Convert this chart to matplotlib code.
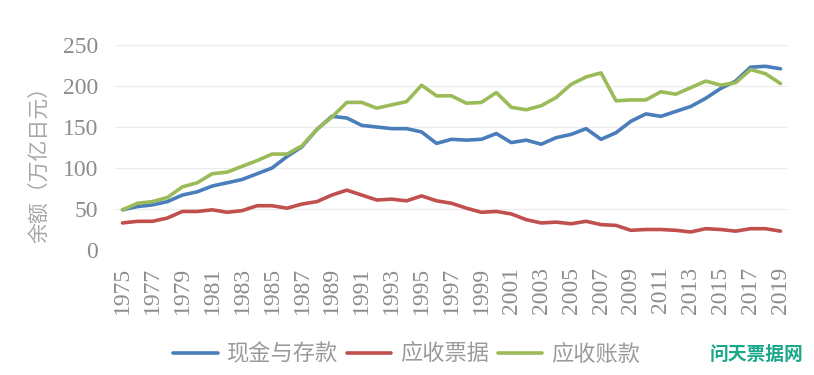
#!/usr/bin/env python
# -*- coding: utf-8 -*-
import matplotlib

matplotlib.use("Agg")
import matplotlib.pyplot as plt
import numpy as np

plt.rcParams["font.family"] = ["Noto Sans CJK SC", "DejaVu Sans"]

####################################################
# Data

years = list(range(1975, 2020))

cash_deposits = [
    49, 53, 55, 59, 67, 71, 78, 82, 86, 93, 100, 114, 126, 147, 163,
    161, 152, 150, 148, 148, 144, 130, 135, 134, 135, 142, 131, 134, 129, 137,
    141, 148, 135, 143, 157, 166, 163, 169, 175, 185, 197, 206, 223, 224, 221,
]
notes_receivable = [
    33, 35, 35, 39, 47, 47, 49, 46, 48, 54, 54, 51, 56, 59, 67,
    73, 67, 61, 62, 60, 66, 60, 57, 51, 46, 47, 44, 37, 33, 34,
    32, 35, 31, 30, 24, 25, 25, 24, 22, 26, 25, 23, 26, 26, 23,
]
accounts_receivable = [
    49, 57, 59, 64, 77, 82, 93, 95, 102, 109, 117, 117, 127, 147, 162,
    180, 180, 173, 177, 181, 201, 188, 188, 179, 180, 192, 174, 171, 176, 186,
    202, 211, 216, 182, 183, 183, 193, 190, 198, 206, 201, 204, 220, 215, 203,
]

series_names = ["现金与存款", "应收票据", "应收账款"]
series_colors = ["#4a7ebb", "#c0504d", "#9bbb59"]

ylabel = "余额（万亿日元）"
watermark = "问天票据网"

####################################################
# Plot

gray = "#8c8c8c"
serif = "Liberation Serif"

fig = plt.figure(figsize=(8.14, 3.75), dpi=100)
ax = fig.add_axes([0.1413, 0.3333, 0.8267, 0.5467])

for vals, name, c in zip(
    [cash_deposits, notes_receivable, accounts_receivable], series_names, series_colors
):
    ax.plot(years, vals, color=c, lw=2.6, label=name, solid_capstyle="round")

ax.set_xlim(1974.5, 2019.5)
ax.set_ylim(0, 250)
ax.set_yticks(np.arange(0, 251, 50))
ax.set_xticks(years[::2])
ax.set_xticklabels([str(y) for y in years[::2]], rotation=90, family=serif)
ax.set_yticklabels([str(v) for v in range(0, 251, 50)], family=serif)

ax.tick_params(axis="both", length=0, colors=gray, labelsize=17)
ax.tick_params(axis="x", pad=12)
ax.tick_params(axis="y", pad=12)

for s in ax.spines.values():
    s.set_visible(False)
ax.grid(axis="y", color="#ececec", lw=0.9)
ax.set_axisbelow(True)

ax.set_ylabel(ylabel, color="#a6a6a6", fontsize=15)
ax.yaxis.set_label_coords(-0.095, 0.44)

fig.legend(
    loc="center",
    bbox_to_anchor=(0.4995, 0.056),
    ncol=3,
    frameon=False,
    fontsize=16,
    handlelength=2.0,
    handletextpad=0.4,
    columnspacing=0.4,
    labelcolor="#9a9a9a",
)

fig.text(
    0.872, 0.056, watermark, color="#1aa88a", fontsize=13.5,
    fontweight="bold", va="center", ha="left",
)

plt.savefig("out.png", dpi=100)
plt.close("all")
